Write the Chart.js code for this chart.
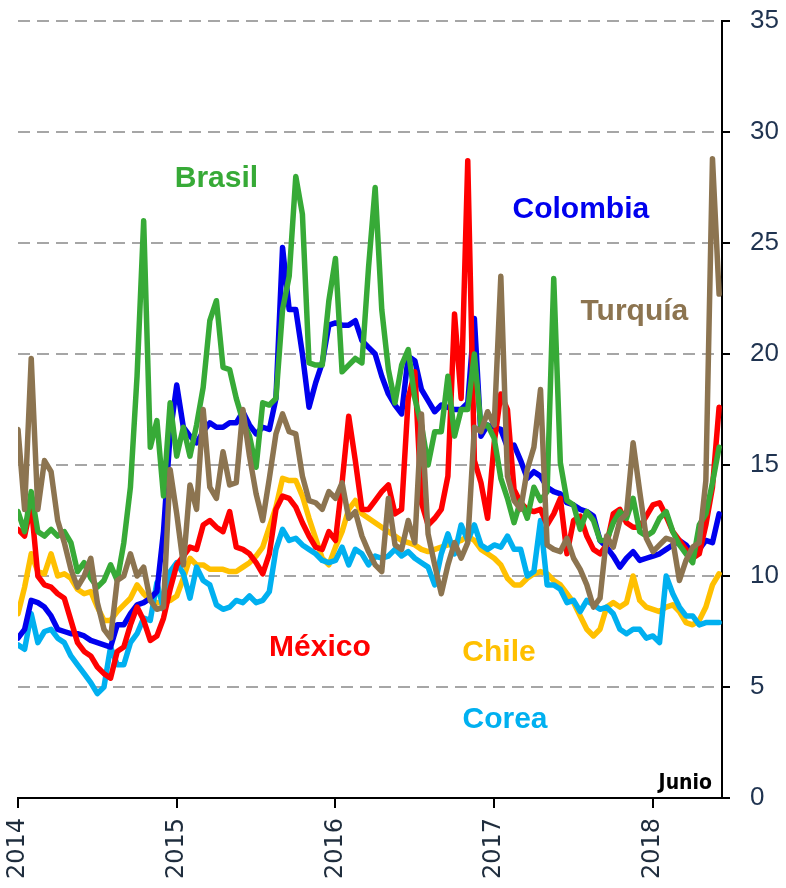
<!DOCTYPE html>
<html lang="es">
<head>
<meta charset="utf-8">
<title>Volatilidad</title>
<script src="https://cdn.jsdelivr.net/npm/chart.js@4.4.1/dist/chart.umd.min.js"></script>
<style>
  html, body { margin: 0; padding: 0; background: #fff; }
  #grafico { display: block; }
</style>
</head>
<body>
<canvas id="grafico" width="786" height="888"></canvas>
<script>
// Valores quincenales desde enero 2014 hasta junio 2018
const brasil = [
  12.9, 12.0, 13.8, 12.0, 11.8, 12.1, 11.8, 12.0, 11.5, 10.2, 10.6, 9.9, 9.5, 9.8, 10.5, 9.8, 11.5, 14.0, 19.0, 26.0, 15.8, 17.0, 13.6, 17.8,
  15.4, 16.7, 15.4, 16.8, 18.5, 21.5, 22.4, 19.4, 19.3, 18.0, 17.0, 16.3, 14.9, 17.8, 17.7, 18.0, 22.0, 23.5, 28.0, 26.3, 19.6, 19.5, 19.5, 22.4,
  24.3, 19.2, 19.5, 19.8, 19.6, 23.9, 27.5, 22.0, 19.3, 17.8, 19.5, 20.2, 18.0, 16.8, 15.0, 16.5, 16.5, 19.0, 16.3, 17.5, 17.5, 20.0, 16.7, 16.8,
  16.2, 14.4, 13.5, 12.4, 13.4, 12.6, 14.0, 13.4, 13.8, 23.4, 15.1, 13.4, 13.2, 12.1, 12.9, 12.5, 11.6, 11.6, 12.4, 12.9, 12.6, 13.5, 12.0, 11.8,
  12.0, 12.6, 12.9, 12.0, 11.4, 11.0, 10.6, 12.3, 12.8, 14.2, 15.8
];
const colombia = [
  7.2, 7.6, 8.9, 8.8, 8.6, 8.2, 7.6, 7.5, 7.4, 7.4, 7.3, 7.1, 7.0, 6.9, 6.8, 7.8, 7.8, 8.3, 8.7, 8.8, 9.0, 9.3, 12.0, 16.4,
  18.6, 16.7, 16.3, 16.0, 16.5, 16.9, 16.7, 16.7, 16.9, 16.9, 17.4, 16.8, 16.4, 16.7, 16.6, 18.0, 24.8, 22.0, 22.0, 20.0, 17.6, 18.7, 19.6, 21.3,
  21.4, 21.3, 21.3, 21.5, 20.6, 20.3, 20.0, 19.0, 18.2, 17.7, 17.3, 19.9, 19.7, 18.4, 17.9, 17.4, 17.7, 17.6, 17.5, 17.5, 17.8, 21.6, 16.3, 16.8,
  16.7, 16.6, 15.8, 15.9, 15.2, 14.4, 14.7, 14.5, 14.0, 13.8, 13.7, 13.3, 13.2, 13.0, 12.9, 12.7, 11.6, 11.3, 10.9, 10.4, 10.8, 11.1, 10.7, 10.8,
  10.9, 11.0, 11.2, 11.4, 11.6, 11.4, 11.0, 11.2, 11.6, 11.5, 12.8
];
const mexico = [
  12.1, 11.8, 13.2, 10.0, 9.6, 9.5, 9.2, 9.0, 8.0, 7.0, 6.6, 6.4, 5.9, 5.6, 5.4, 6.6, 6.8, 7.8, 8.6, 8.0, 7.1, 7.3, 8.1, 9.4,
  10.5, 10.9, 11.3, 11.2, 12.3, 12.5, 12.2, 12.0, 12.9, 11.3, 11.2, 11.0, 10.6, 10.1, 11.0, 13.0, 13.6, 13.5, 13.1, 12.4, 11.8, 11.3, 11.2, 12.0,
  11.6, 14.2, 17.2, 15.2, 13.0, 13.0, 13.4, 13.8, 14.1, 12.8, 13.0, 18.0, 19.2, 13.3, 12.3, 12.6, 13.0, 14.5, 21.8, 18.0, 28.7, 15.2, 14.2, 12.6,
  16.0, 18.2, 17.5, 13.9, 13.3, 13.0, 12.9, 13.0, 12.3, 12.8, 13.5, 11.0, 12.5, 12.7, 11.8, 11.2, 11.0, 11.4, 12.8, 13.0, 12.4, 12.2, 12.2, 12.7,
  13.2, 13.3, 12.7, 12.0, 11.6, 11.2, 10.8, 11.0, 12.3, 14.0, 17.6
];
const chile = [
  8.3, 9.5, 11.0, 10.2, 10.1, 11.0, 10.0, 10.1, 9.9, 9.4, 9.2, 9.3, 8.6, 8.0, 8.0, 8.4, 8.7, 9.0, 9.6, 9.2, 8.9, 8.8, 8.8, 8.9,
  9.1, 9.9, 10.8, 10.5, 10.5, 10.3, 10.3, 10.3, 10.2, 10.2, 10.4, 10.6, 10.9, 11.3, 12.2, 13.1, 14.4, 14.3, 14.3, 13.6, 12.6, 11.7, 10.8, 10.5,
  11.3, 12.0, 13.0, 13.4, 12.8, 12.6, 12.4, 12.2, 12.0, 11.8, 11.6, 11.5, 11.4, 11.2, 11.1, 11.2, 11.3, 11.4, 11.5, 11.6, 11.8, 11.6, 11.2, 11.0,
  10.8, 10.5, 9.9, 9.6, 9.6, 9.9, 10.1, 10.2, 10.1, 9.8, 9.6, 9.2, 8.8, 8.2, 7.6, 7.3, 7.6, 8.6, 8.8, 8.6, 8.8, 10.0, 8.9, 8.6,
  8.5, 8.4, 8.6, 8.7, 8.4, 7.9, 7.8, 8.0, 8.6, 9.6, 10.1
];
const corea = [
  6.9, 6.7, 8.3, 7.0, 7.5, 7.6, 7.2, 7.0, 6.4, 6.0, 5.6, 5.2, 4.7, 5.0, 6.8, 6.0, 6.0, 7.0, 7.4, 8.1, 8.0, 9.7, 8.5, 10.2,
  10.6, 10.1, 9.0, 10.4, 9.8, 9.6, 8.7, 8.5, 8.6, 8.9, 8.8, 9.1, 8.8, 8.9, 9.3, 11.2, 12.1, 11.6, 11.7, 11.4, 11.2, 11.0, 10.7, 10.6,
  10.7, 11.3, 10.5, 11.2, 11.0, 10.5, 10.9, 10.8, 10.9, 11.2, 10.9, 11.1, 10.8, 10.6, 10.4, 9.6, 11.0, 11.9, 11.0, 12.3, 11.6, 12.3, 11.4, 11.2,
  11.4, 11.3, 11.8, 11.2, 11.2, 10.0, 10.2, 12.5, 9.6, 9.6, 9.4, 8.8, 8.9, 8.4, 8.9, 8.7, 8.5, 8.6, 8.3, 7.6, 7.4, 7.6, 7.6, 7.2,
  7.3, 7.0, 10.0, 9.2, 8.6, 8.2, 8.2, 7.8, 7.9, 7.9, 7.9
];
const turquia = [
  16.6, 13.0, 19.8, 13.0, 15.2, 14.7, 12.5, 11.5, 10.3, 9.5, 10.0, 10.8, 8.8, 7.6, 7.2, 9.8, 10.0, 11.0, 10.0, 10.4, 8.9, 8.5, 8.6, 14.8,
  12.8, 10.5, 14.1, 13.0, 17.5, 14.0, 13.5, 15.6, 14.1, 14.2, 17.5, 15.4, 13.7, 12.5, 14.4, 16.4, 17.3, 16.5, 16.4, 14.5, 13.4, 13.3, 13.0, 13.8,
  13.5, 14.2, 12.6, 12.9, 11.8, 11.1, 10.5, 10.2, 13.5, 11.4, 11.2, 12.5, 11.5, 17.3, 11.9, 10.5, 9.2, 10.5, 11.5, 10.8, 11.5, 16.7, 16.5, 17.4,
  16.8, 23.5, 14.5, 13.4, 13.0, 14.8, 15.8, 18.4, 11.4, 11.2, 11.1, 11.7, 10.8, 10.3, 9.6, 8.6, 9.0, 11.8, 11.3, 12.5, 12.8, 16.0, 13.8, 11.7,
  11.1, 11.4, 11.7, 11.6, 9.8, 10.7, 11.3, 11.5, 14.3, 28.8, 22.7
];

// eje temporal: una observación cada quincena
const quincenas = Array.from({ length: brasil.length }, (_, i) => 2014 + i / 24);
const anios = [2014, 2015, 2016, 2017, 2018];

const colores = {
  brasil: '#37aa37',
  colombia: '#0000ee',
  mexico: '#ff0000',
  chile: '#ffc000',
  corea: '#00b0f0',
  turquia: '#8c7450'
};

// nombres de país colocados sobre el gráfico (en coordenadas de datos)
const etiquetas = [
  { texto: 'Brasil', x: 2015.25, y: 27.9, color: colores.brasil },
  { texto: 'Colombia', x: 2017.546, y: 26.5, color: colores.colombia },
  { texto: 'Turquía', x: 2017.883, y: 21.9, color: colores.turquia },
  { texto: 'México', x: 2015.902, y: 6.76, color: colores.mexico },
  { texto: 'Chile', x: 2017.03, y: 6.53, color: colores.chile },
  { texto: 'Corea', x: 2017.068, y: 3.51, color: colores.corea }
];

const serie = (valores) => valores.map((v, i) => ({ x: quincenas[i], y: v }));

const linea = (label, valores, color, order) => ({
  label,
  data: serie(valores),
  borderColor: color,
  backgroundColor: color,
  borderWidth: 5.5,
  pointRadius: 0,
  tension: 0,
  fill: false,
  borderJoinStyle: 'round',
  borderCapStyle: 'round',
  order
});

const etiquetasPlugin = {
  id: 'etiquetas',
  afterDatasetsDraw(chart) {
    const { ctx, scales: { x, y } } = chart;
    ctx.save();
    ctx.font = 'bold 30px "Liberation Sans", Arial, sans-serif';
    ctx.textAlign = 'center';
    ctx.textBaseline = 'middle';
    etiquetas.forEach(e => {
      ctx.fillStyle = e.color;
      ctx.fillText(e.texto, x.getPixelForValue(e.x), y.getPixelForValue(e.y));
    });
    ctx.font = 'bold 21px "Liberation Sans Narrow", "DejaVu Sans Condensed", sans-serif';
    ctx.textAlign = 'right';
    ctx.fillStyle = '#000';
    ctx.fillText('Junio', x.getPixelForValue(2018.372), y.getPixelForValue(0.63));
    ctx.restore();
  }
};

new Chart(document.getElementById('grafico'), {
  type: 'line',
  data: {
    datasets: [
      linea('Turquía', turquia, colores.turquia, 0),
      linea('Brasil', brasil, colores.brasil, 1),
      linea('México', mexico, colores.mexico, 2),
      linea('Colombia', colombia, colores.colombia, 3),
      linea('Corea', corea, colores.corea, 4),
      linea('Chile', chile, colores.chile, 5)
    ]
  },
  options: {
    responsive: false,
    animation: false,
    devicePixelRatio: 1,
    layout: { padding: { left: 18, top: 21, right: 0, bottom: 0 } },
    plugins: {
      legend: { display: false },
      tooltip: { enabled: false }
    },
    scales: {
      x: {
        type: 'linear',
        min: 2014,
        max: 2018.435,
        afterBuildTicks: s => { s.ticks = anios.map(a => ({ value: a })); },
        ticks: {
          autoSkip: false,
          minRotation: 90,
          maxRotation: 90,
          padding: 10,
          color: '#1f2d3d',
          font: { family: 'DejaVu Sans', size: 24 },
          callback: v => String(Math.round(v))
        },
        grid: { drawOnChartArea: false, drawTicks: true, tickLength: 10, color: '#000', lineWidth: 2 },
        border: { display: true, color: '#000', width: 2 },
        afterFit: s => { s.height = 90; }
      },
      y: {
        position: 'right',
        min: 0,
        max: 35,
        ticks: {
          stepSize: 5,
          padding: 20,
          color: '#1f3350',
          font: { family: 'Liberation Sans', size: 26 }
        },
        grid: {
          color: c => (c.tick && c.tick.value === 0 ? 'rgba(0,0,0,0)' : '#a6a6a6'),
          lineWidth: 2,
          tickLength: 8,
          tickColor: '#000',
          tickWidth: 2
        },
        border: { display: true, color: '#000', width: 2, dash: [12, 7] },
        afterFit: s => {
          s.width = 64;
          s.paddingTop = 0;
          s.paddingBottom = 0;
        }
      }
    }
  },
  plugins: [etiquetasPlugin]
});
</script>
</body>
</html>
